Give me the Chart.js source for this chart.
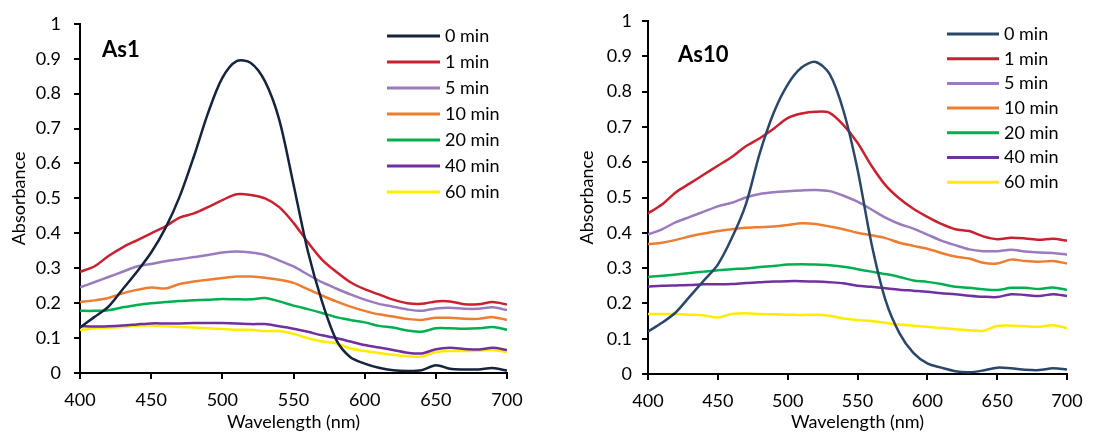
<!DOCTYPE html>
<html>
<head>
<meta charset="utf-8">
<script src="https://cdn.jsdelivr.net/npm/chart.js@4.4.1/dist/chart.umd.min.js"></script>
<style>
  body { margin: 0; background: #fff; width: 1107px; height: 433px; position: relative; overflow: hidden; }
  canvas { position: absolute; top: 0; }
  #leftChart { left: 0; }
  #rightChart { left: 560px; }
</style>
</head>
<body>
<canvas id="leftChart" width="540" height="433"></canvas>
<canvas id="rightChart" width="547" height="433"></canvas>
<script>
// wavelength grid (nm)
const wavelengths = [400,410,420,430,440,450,460,470,480,490,500,510,520,530,540,550,560,570,580,590,600,610,620,630,640,650,660,670,680,690,700];
const seriesLabels = ['0 min','1 min','5 min','10 min','20 min','40 min','60 min'];
const xTicks = [400,450,500,550,600,650,700];
const yTicks = [0,0.1,0.2,0.3,0.4,0.5,0.6,0.7,0.8,0.9,1];
const yTickLabels = ['0','0.1','0.2','0.3','0.4','0.5','0.6','0.7','0.8','0.9','1'];

// As1 absorbance
const as1Min0  = [0.13,0.16,0.19,0.24,0.29,0.345,0.415,0.505,0.62,0.745,0.845,0.893,0.888,0.835,0.725,0.54,0.35,0.205,0.095,0.045,0.027,0.015,0.008,0.006,0.008,0.022,0.012,0.01,0.01,0.014,0.007];
const as1Min1  = [0.29,0.305,0.335,0.36,0.38,0.40,0.42,0.445,0.457,0.475,0.495,0.512,0.51,0.50,0.475,0.43,0.375,0.325,0.29,0.26,0.24,0.225,0.21,0.2,0.198,0.205,0.205,0.197,0.197,0.203,0.196];
const as1Min5  = [0.245,0.26,0.275,0.29,0.305,0.312,0.32,0.326,0.332,0.338,0.345,0.348,0.345,0.338,0.322,0.305,0.282,0.26,0.242,0.225,0.21,0.198,0.19,0.182,0.178,0.185,0.187,0.184,0.184,0.188,0.18];
const as1Min10 = [0.203,0.208,0.215,0.228,0.238,0.245,0.242,0.255,0.262,0.267,0.272,0.276,0.276,0.273,0.267,0.258,0.24,0.222,0.205,0.19,0.178,0.168,0.162,0.155,0.152,0.158,0.158,0.155,0.155,0.16,0.152];
const as1Min20 = [0.178,0.178,0.18,0.188,0.195,0.2,0.203,0.206,0.208,0.21,0.212,0.211,0.211,0.215,0.205,0.193,0.183,0.172,0.16,0.152,0.145,0.135,0.13,0.122,0.118,0.128,0.128,0.127,0.128,0.132,0.124];
const as1Min40 = [0.134,0.133,0.134,0.136,0.139,0.142,0.142,0.142,0.143,0.143,0.143,0.142,0.14,0.14,0.134,0.127,0.118,0.108,0.1,0.09,0.08,0.073,0.066,0.058,0.056,0.068,0.072,0.069,0.067,0.072,0.066];
const as1Min60 = [0.123,0.128,0.13,0.132,0.135,0.136,0.134,0.132,0.13,0.128,0.126,0.124,0.124,0.12,0.12,0.112,0.1,0.09,0.085,0.07,0.063,0.057,0.052,0.048,0.047,0.06,0.063,0.063,0.064,0.066,0.06];

// As10 absorbance
const as10Min0  = [0.12,0.145,0.175,0.22,0.265,0.31,0.385,0.48,0.625,0.74,0.82,0.868,0.884,0.85,0.745,0.58,0.37,0.21,0.116,0.06,0.03,0.018,0.008,0.005,0.01,0.018,0.016,0.012,0.011,0.016,0.013];
const as10Min1  = [0.455,0.48,0.515,0.54,0.565,0.59,0.615,0.645,0.668,0.695,0.725,0.738,0.743,0.74,0.705,0.655,0.59,0.535,0.497,0.468,0.445,0.425,0.41,0.405,0.39,0.382,0.386,0.384,0.38,0.383,0.378];
const as10Min5  = [0.395,0.41,0.43,0.445,0.46,0.475,0.485,0.5,0.51,0.515,0.518,0.52,0.521,0.518,0.505,0.488,0.466,0.443,0.425,0.412,0.395,0.378,0.365,0.353,0.348,0.348,0.352,0.347,0.344,0.343,0.338];
const as10Min10 = [0.368,0.372,0.38,0.39,0.398,0.405,0.41,0.414,0.416,0.418,0.422,0.427,0.425,0.418,0.41,0.4,0.393,0.385,0.372,0.363,0.355,0.343,0.333,0.327,0.315,0.313,0.324,0.32,0.318,0.32,0.313];
const as10Min20 = [0.275,0.278,0.282,0.286,0.29,0.294,0.297,0.299,0.303,0.306,0.31,0.311,0.31,0.308,0.304,0.297,0.29,0.283,0.275,0.265,0.261,0.255,0.247,0.244,0.24,0.238,0.244,0.244,0.241,0.245,0.238];
const as10Min40 = [0.248,0.25,0.251,0.252,0.254,0.254,0.255,0.258,0.26,0.262,0.263,0.263,0.262,0.26,0.257,0.25,0.247,0.243,0.239,0.236,0.233,0.229,0.226,0.222,0.219,0.218,0.226,0.224,0.221,0.226,0.221];
const as10Min60 = [0.17,0.17,0.17,0.168,0.166,0.16,0.17,0.172,0.17,0.169,0.168,0.167,0.168,0.165,0.157,0.153,0.15,0.145,0.14,0.137,0.134,0.13,0.127,0.124,0.122,0.136,0.137,0.135,0.134,0.138,0.13];

const colorsAs1  = ['#15233d','#c9212f','#9a7bbd','#ed7d31','#00b050','#7030a0','#ffec00'];
const colorsAs10 = ['#2a4769','#c9212f','#9a7bbd','#ed7d31','#00b050','#7030a0','#ffec00'];

Chart.defaults.font.family = 'Lato';
Chart.defaults.color = '#000';

// legend + sample tag drawn inside the plot area
const insideLegend = {
  id: 'insideLegend',
  afterDraw(chart, args, opts) {
    const ctx = chart.ctx;
    ctx.save();
    ctx.font = '18px Lato';
    ctx.textBaseline = 'middle';
    ctx.fillStyle = '#000';
    chart.data.datasets.forEach((ds, i) => {
      const y = opts.top + i * opts.step;
      ctx.strokeStyle = ds.borderColor;
      ctx.lineWidth = 3;
      ctx.beginPath();
      ctx.moveTo(opts.x0, y);
      ctx.lineTo(opts.x1, y);
      ctx.stroke();
      ctx.fillText(ds.label, opts.x1 + 5, y);
    });
    ctx.font = 'bold 22px Lato';
    ctx.textBaseline = 'alphabetic';
    ctx.fillText(opts.tag, opts.tagX, opts.tagY);
    ctx.restore();
  }
};

function makeChart(id, series, colors, cfg) {
  const datasets = series.map((vals, i) => ({
    label: seriesLabels[i],
    data: wavelengths.map((w, j) => ({ x: w, y: vals[j] })),
    borderColor: colors[i],
    borderWidth: 2.5,
    pointRadius: 0,
    tension: 0.3,
    fill: false,
    order: i
  }));

  return new Chart(document.getElementById(id), {
    type: 'line',
    data: { datasets: datasets },
    plugins: [insideLegend],
    options: {
      responsive: false,
      animation: false,
      layout: { padding: { top: 21, right: cfg.padRight, left: 0, bottom: 0 } },
      plugins: {
        legend: { display: false },
        tooltip: { enabled: false },
        insideLegend: cfg.legend
      },
      scales: {
        x: {
          type: 'linear',
          min: 400, max: 700,
          afterBuildTicks: s => { s.ticks = xTicks.map(v => ({ value: v })); },
          afterFit: s => { s.height = cfg.xHeight; },
          ticks: { font: { size: 18 }, color: '#000', padding: 10, maxRotation: 0 },
          grid: { drawOnChartArea: false, tickLength: 6, color: '#000', lineWidth: 2 },
          border: { color: '#000', width: 2 },
          title: { display: true, text: 'Wavelength (nm)', font: { size: 18 }, color: '#000', padding: { top: 0, bottom: 0 } }
        },
        y: {
          min: 0, max: 1,
          afterBuildTicks: s => { s.ticks = yTicks.map(v => ({ value: v })); },
          afterFit: s => { s.width = cfg.yWidth; },
          ticks: { font: { size: 18 }, color: '#000', padding: cfg.yPad, callback: (v, i) => yTickLabels[i] },
          grid: { drawOnChartArea: false, tickLength: 6, color: '#000', lineWidth: 2 },
          border: { color: '#000', width: 2 },
          title: { display: true, text: 'Absorbance', font: { size: 18 }, color: '#000', padding: { top: cfg.yTitlePad, bottom: 0 } }
        }
      }
    }
  });
}

makeChart('leftChart',
  [as1Min0, as1Min1, as1Min5, as1Min10, as1Min20, as1Min40, as1Min60],
  colorsAs1,
  { padRight: 33, xHeight: 60, yWidth: 80, yPad: 13, yTitlePad: 8,
    legend: { x0: 387, x1: 440, top: 36, step: 26, tag: 'As1', tagX: 102, tagY: 57 } });

makeChart('rightChart',
  [as10Min0, as10Min1, as10Min5, as10Min10, as10Min20, as10Min40, as10Min60],
  colorsAs10,
  { padRight: 40, xHeight: 59, yWidth: 88, yPad: 10, yTitlePad: 16,
    legend: { x0: 387, x1: 439, top: 34, step: 24.7, tag: 'As10', tagX: 118, tagY: 62 } });
</script>
</body>
</html>
